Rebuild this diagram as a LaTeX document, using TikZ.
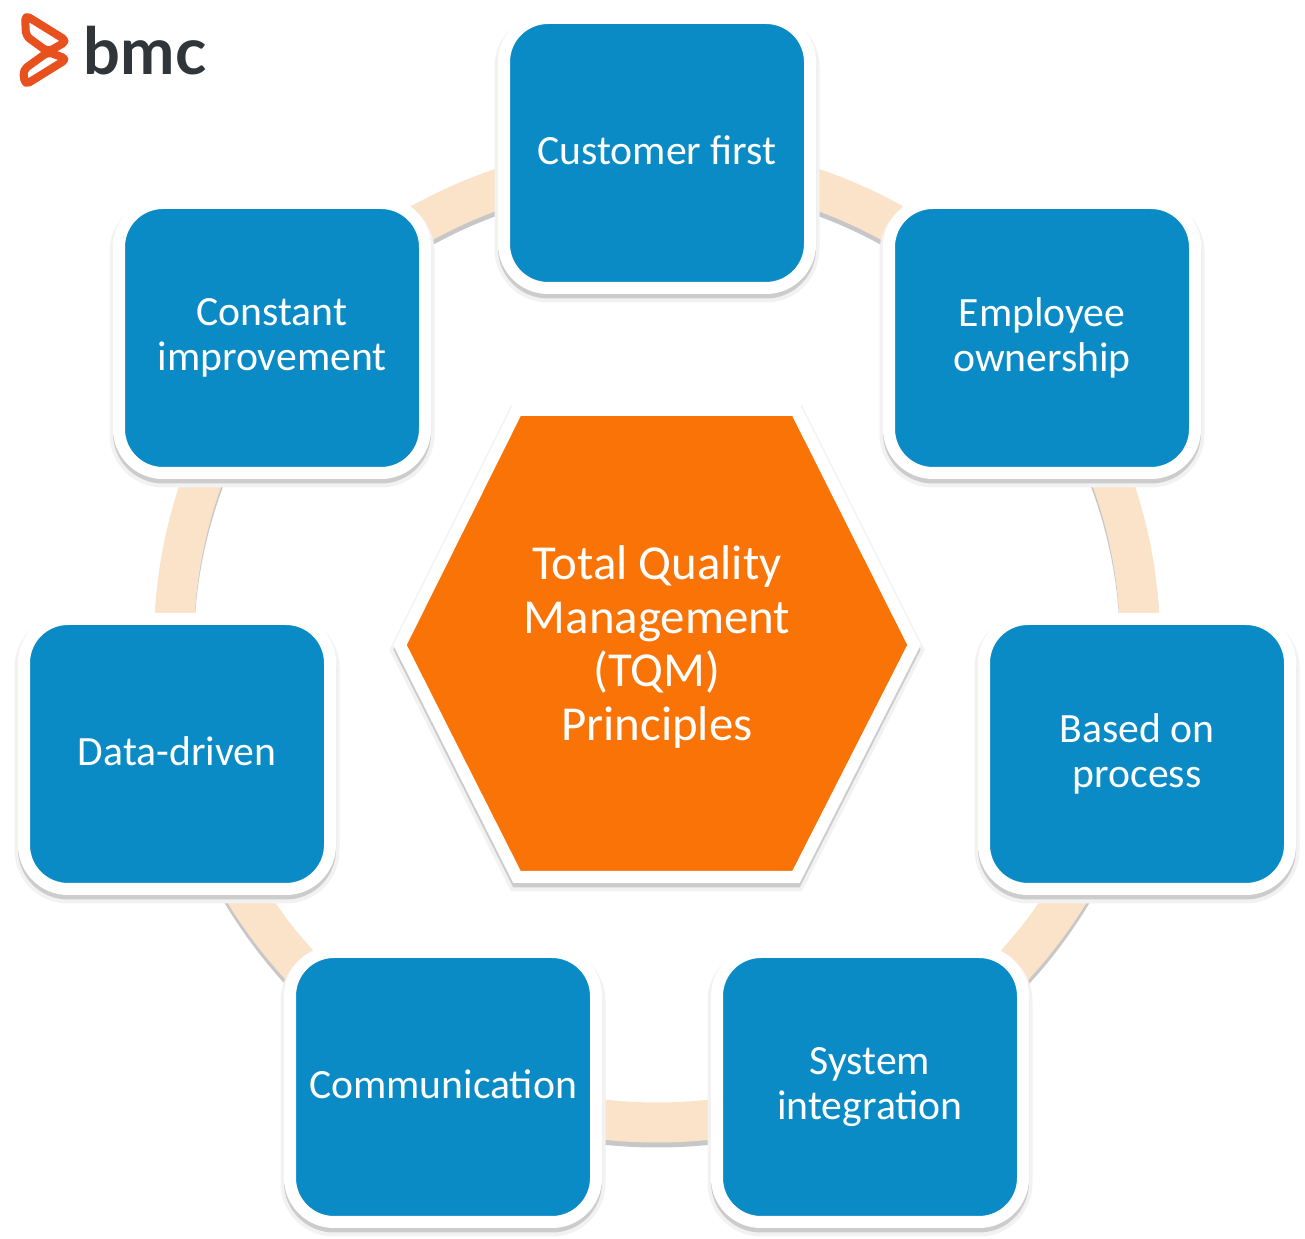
\documentclass[tikz,border=0pt]{standalone}
\usepackage{fontspec}
\setmainfont{Carlito}
\newfontfamily\logofont{Lato}
\definecolor{boxblue}{HTML}{0B8BC6}
\definecolor{hexorange}{HTML}{F97306}
\definecolor{ringcream}{HTML}{FBE3C9}
\definecolor{logored}{HTML}{E8501E}
\definecolor{logogray}{HTML}{2F3538}
\tikzset{
  softedge/.style={
    preaction={draw=black!5,line width=.19cm,transform canvas={yshift=-.05cm}},
    preaction={draw=black!20,line width=.12cm,transform canvas={yshift=-.045cm}}},
  principle/.style={softedge,draw=white,line width=.12cm,fill=boxblue,rounded corners=.44cm,
    minimum width=3.06cm,minimum height=2.70cm,text=white,align=center,
    font=\fontsize{11.85}{12.8}\selectfont},
  oneliner/.style={principle,text depth=.05cm},
  hexbox/.style={softedge,draw=white,line width=.12cm,fill=hexorange,line join=miter},
  hextext/.style={text=white,align=center,font=\fontsize{13.9}{15.3}\selectfont},
  ring/.style={ringcream,line width=.40cm},
  ringedge/.style={black!22,line width=.40cm}
}
\begin{document}
\begin{tikzpicture}
  \useasboundingbox (0,0) rectangle (13.05,12.39);
  \fill[white] (0,0) rectangle (13.05,12.39);
  % ring behind the boxes
  \coordinate (centre) at (6.57,5.965);
  \draw[ringedge] ([yshift=-.05cm]centre) ellipse (4.83 and 4.80);
  \draw[ring] (centre) ellipse (4.83 and 4.80);
  % boxes
  \node [oneliner] (customer) at (6.57,10.86) {Customer first};
  \node [principle] (employee) at (10.42,9.01) {Employee\\ownership};
  \node [principle] (process) at (11.37,4.85) {Based on\\process};
  \node [principle] (system) at (8.70,1.52) {System\\integration};
  \node [oneliner] (communication) at (4.43,1.52) {Communication};
  \node [oneliner] (data) at (1.77,4.85) {Data-driven};
  \node [principle] (improvement) at (2.72,9.01) {Constant\\improvement};
  % hexagon in the middle
  \draw[hexbox] (4.00,5.94) -- (5.17,8.29) -- (7.96,8.29) -- (9.14,5.94) -- (7.96,3.62) -- (5.17,3.62) -- cycle;
  \node [hextext] (tqm) at (6.57,5.92) {Total Quality\\Management\\(TQM)\\Principles};
  % logo
  \draw[logored,line width=.08cm,rounded corners=.05cm,line join=round]
    (.25,12.24) -- (.67,11.98) -- (.48,11.87) -- (.26,12.03) -- cycle;
  \draw[logored,line width=.08cm,rounded corners=.05cm,line join=round]
    (.67,11.80) -- (.25,11.54) -- (.23,11.69) -- (.48,11.87) -- cycle;
  \node [anchor=base west,inner sep=0pt,text=logogray,font=\logofont\bfseries\fontsize{18.5}{19}\selectfont] (bmc) at (.83,11.64) {bmc};
\end{tikzpicture}
\end{document}
